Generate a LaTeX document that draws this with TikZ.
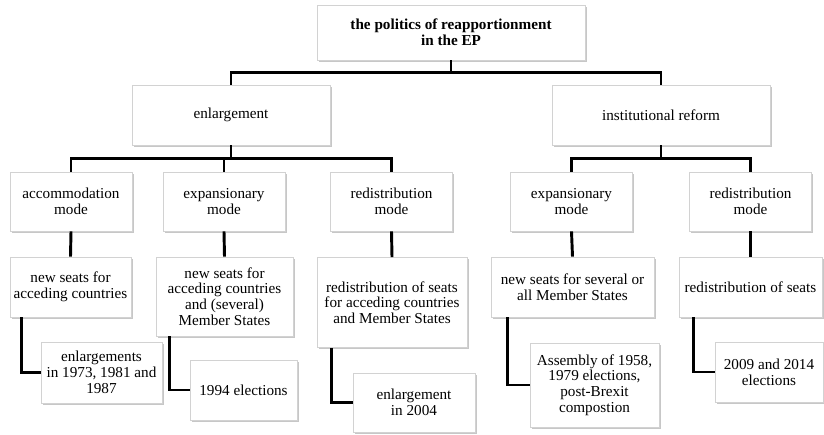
\documentclass[tikz,border=0pt]{standalone}
\usepackage{fontspec}
\setmainfont{Liberation Serif}
\usetikzlibrary{positioning,shadows}
\tikzset{boxsize/.style 2 args = {minimum width=#1*0.75pt, minimum height=#2*0.75pt}}
\tikzset{Tree/.style = {
		x=0.75pt, y=-0.75pt,
		every node/.style = {rectangle, draw=gray!35, line width=0.5pt, fill=white,
			align=center, inner sep=1pt,
			font=\fontsize{11.4}{11.8}\selectfont,
			drop shadow={shadow xshift=1.3pt, shadow yshift=-1.3pt, fill=black, opacity=0.22},
		},
		titlebox/.style = {font=\fontsize{11.4}{11.8}\selectfont\bfseries},
		conn/.style = {line width=2.2pt, black},
	}% end of Tree style
}
\begin{document}
\begin{tikzpicture}[Tree]
  \useasboundingbox (0,0) rectangle (824,435);

  \node[titlebox,boxsize={268}{55}] (root) at (451,32.5) {the politics of reapportionment\\in the EP};

  \node[boxsize={198}{60}] (enl) at (231,115) {enlargement};
  \node[boxsize={218}{60}] (inst) at (661,115) {institutional reform};
  \draw[conn] (root.south) -- ++(0,12) -| (enl.north);
  \draw[conn] (root.south) ++(0,12) -| (inst.north);

  % modes
  \node[boxsize={122}{59}] (accm) at (71,201.5) {accommodation\\mode};
  \node[boxsize={122}{59}] (expm) at (224,201.5) {expansionary\\mode};
  \node[boxsize={122}{59}] (redm) at (391.5,201.5) {redistribution\\mode};
  \node[boxsize={122}{59}] (iexpm) at (571.5,201.5) {expansionary\\mode};
  \node[boxsize={122}{59}] (iredm) at (750.5,201.5) {redistribution\\mode};
  \draw[conn] (enl.south) -- ++(0,13) -| (accm.north);
  \draw[conn] (enl.south) ++(0,13) -| (redm.north);
  \draw[conn] (expm.north) -- ++(0,-14);
  \draw[conn] (inst.south) -- ++(0,13) -| (iexpm.north);
  \draw[conn] (inst.south) ++(0,13) -| (iredm.north);

  % seats
  \node[boxsize={121}{60}] (accs) at (70.5,287) {new seats for\\acceding countries};
  \node[boxsize={137}{79}] (exps) at (224.5,296.5) {new seats for\\acceding countries\\and (several)\\Member States};
  \node[boxsize={150}{90}] (reds) at (392,302.5) {redistribution of seats\\for acceding countries\\and Member States};
  \node[boxsize={163}{60}] (iexps) at (572.5,287) {new seats for several or\\all Member States};
  \node[boxsize={143}{60}] (ireds) at (750.5,287) {redistribution of seats};
  \draw[conn] (accm.south) -- (accs.north);
  \draw[conn] (expm.south) -- (exps.north);
  \draw[conn] (redm.south) -- (reds.north);
  \draw[conn] (iexpm.south) -- (iexps.north);
  \draw[conn] (iredm.south) -- (ireds.north);

  % examples
  \node[boxsize={121}{61}] (acce) at (101.5,372.5) {enlargements\\in 1973, 1981 and\\1987};
  \node[boxsize={107}{60}] (expe) at (243.5,390) {1994 elections};
  \node[boxsize={122}{59}] (rede) at (414,402.5) {enlargement\\in 2004};
  \node[boxsize={129}{84}] (iexpe) at (594.5,385) {Assembly of 1958,\\1979 elections,\\post-Brexit\\compostion};
  \node[boxsize={108}{60}] (irede) at (769,372) {2009 and 2014\\elections};
  \draw[conn] ([xshift=9pt]accs.south west) |- (acce.west);
  \draw[conn] ([xshift=10.5pt]exps.south west) |- (expe.west);
  \draw[conn] ([xshift=11.25pt]reds.south west) |- (rede.west);
  \draw[conn] ([xshift=12.75pt]iexps.south west) |- (iexpe.west);
  \draw[conn] ([xshift=11.25pt]ireds.south west) |- (irede.west);
\end{tikzpicture}
\end{document}
